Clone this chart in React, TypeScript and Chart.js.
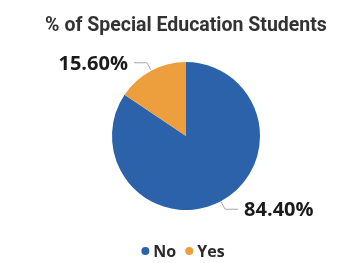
import React, { useEffect, useRef } from "react";
import { Chart, registerables } from "chart.js";

Chart.register(...registerables);

const titleText = "% of Special Education Students";
const categories = ["No", "Yes"];
const values = [84.4, 15.6];
const valueLabels = ["84.40%", "15.60%"];
const colors = ["#2B62AA", "#ED9F3E"];

const titleFont = "bold 19.5px Roboto";
const labelFont = "bold 20px 'Open Sans'";
const legendFont = "bold 16px 'Open Sans'";

const labelPlugin = {
  id: "pieLabels",
  afterDraw(chart: any) {
    const ctx = chart.ctx;
    const meta = chart.getDatasetMeta(0);
    ctx.save();

    // title
    ctx.font = titleFont;
    ctx.fillStyle = "#333333";
    ctx.textAlign = "center";
    ctx.textBaseline = "alphabetic";
    ctx.fillText(titleText, 186, 31);

    meta.data.forEach((arc: any, i: number) => {
      const { x, y, startAngle, endAngle, outerRadius } = arc.getProps(
        ["x", "y", "startAngle", "endAngle", "outerRadius"],
        true
      );
      const mid = (startAngle + endAngle) / 2;
      const cos = Math.cos(mid);
      const sin = Math.sin(mid);
      const x0 = x + cos * (outerRadius + 1);
      const y0 = y + sin * (outerRadius + 1);
      const x1 = x + cos * (outerRadius + 9);
      const y1 = y + sin * (outerRadius + 9);
      const right = cos >= 0;
      const x2 = x1 + (right ? 13 : -13);
      ctx.strokeStyle = "#A8A8A8";
      ctx.lineWidth = 1;
      ctx.beginPath();
      ctx.moveTo(x0, y0);
      ctx.lineTo(x1, y1);
      ctx.lineTo(x2, y1);
      ctx.stroke();
      ctx.fillStyle = "#1A1A1A";
      ctx.font = labelFont;
      ctx.textBaseline = "middle";
      ctx.textAlign = right ? "left" : "right";
      ctx.fillText(valueLabels[i], x2 + (right ? 6 : -6), y1 + 1.5);
    });

    // legend
    ctx.font = legendFont;
    ctx.textBaseline = "middle";
    ctx.textAlign = "left";
    const dotR = 4;
    const gapDotText = 4;
    const gapItems = 9;
    const widths = categories.map((c) => dotR * 2 + gapDotText + ctx.measureText(c).width);
    const total = widths.reduce((a, b) => a + b, 0) + gapItems * (categories.length - 1);
    let lx = 183 - total / 2;
    const ly = 251;
    categories.forEach((c, i) => {
      ctx.fillStyle = colors[i];
      ctx.beginPath();
      ctx.arc(lx + dotR, ly, dotR, 0, Math.PI * 2);
      ctx.fill();
      ctx.fillStyle = "#2A2A2A";
      ctx.fillText(c, lx + dotR * 2 + gapDotText, ly + 1);
      lx += widths[i] + gapItems;
    });
    ctx.restore();
  },
};

export default function App() {
  const ref = useRef<HTMLCanvasElement>(null);
  useEffect(() => {
    document.body.style.margin = "0";
    const chart = new Chart(ref.current!, {
      type: "pie",
      data: {
        labels: categories,
        datasets: [
          {
            data: values,
            backgroundColor: colors,
            borderWidth: 0,
            hoverOffset: 0,
          },
        ],
      },
      options: {
        animation: false,
        responsive: false,
        events: [],
        layout: { padding: { left: 112, right: 81, top: 62, bottom: 53 } },
        plugins: {
          legend: { display: false },
          tooltip: { enabled: false },
          title: { display: false },
        },
      },
      plugins: [labelPlugin],
    });
    return () => chart.destroy();
  }, []);
  return (
    <div style={{ width: 341, height: 263 }}>
      <canvas ref={ref} width={341} height={263} style={{ display: "block" }} />
    </div>
  );
}
